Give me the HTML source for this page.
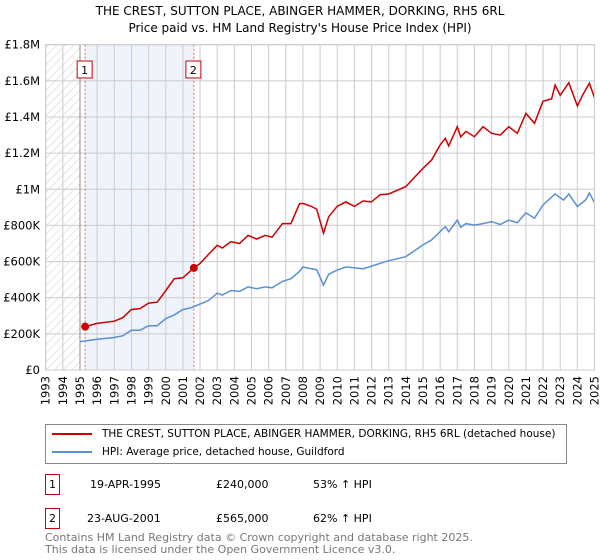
<!DOCTYPE html>
<html><head><meta charset="utf-8"><style>
body{margin:0;background:#fff;font-family:"DejaVu Sans","Liberation Sans",sans-serif;}
#wrap{position:relative;width:600px;height:560px;overflow:hidden;}
.t{position:absolute;font-size:11px;color:#000;white-space:nowrap;}
svg text{font-family:"DejaVu Sans","Liberation Sans",sans-serif;}
</style></head><body><div id="wrap">
<div class="t" style="left:0;width:600px;text-align:center;top:3px;font-size:12px;line-height:17px">THE CREST, SUTTON PLACE, ABINGER HAMMER, DORKING, RH5 6RL<br>Price paid vs. HM Land Registry's House Price Index (HPI)</div>
<svg id="svg" width="600" height="420" style="position:absolute;left:0;top:0"></svg>
<div style="position:absolute;left:45px;top:424px;width:520px;height:38px;border:1px solid #888;font-size:10.5px">
<div style="position:absolute;left:6px;top:3px;white-space:nowrap"><span style="display:inline-block;width:40px;height:2px;background:#cc0000;vertical-align:middle;margin-right:10px"></span>THE CREST, SUTTON PLACE, ABINGER HAMMER, DORKING, RH5 6RL (detached house)</div>
<div style="position:absolute;left:6px;top:21px;white-space:nowrap"><span style="display:inline-block;width:40px;height:2px;background:#5b8fd6;vertical-align:middle;margin-right:10px"></span>HPI: Average price, detached house, Guildford</div>
</div>
<div>
<div class="t" style="left:45px;top:474px;width:13px;height:19px;border:1px solid #cc0000;font-size:11px;line-height:19px;text-align:center">1</div>
<div class="t" style="left:90px;top:478px">19-APR-1995</div>
<div class="t" style="left:216px;top:478px">£240,000</div>
<div class="t" style="left:313px;top:478px">53% ↑ HPI</div>
</div>
<div>
<div class="t" style="left:45px;top:508px;width:13px;height:19px;border:1px solid #cc0000;font-size:11px;line-height:19px;text-align:center">2</div>
<div class="t" style="left:87px;top:512px">23-AUG-2001</div>
<div class="t" style="left:216px;top:512px">£565,000</div>
<div class="t" style="left:313px;top:512px">62% ↑ HPI</div>
</div>
<div class="t" style="left:45px;top:532px;font-size:11px;color:#777;line-height:11.5px">Contains HM Land Registry data © Crown copyright and database right 2025.<br>This data is licensed under the Open Government Licence v3.0.</div>
</div>
<script>
const yTicks=[0,200,400,600,800,1000,1200,1400,1600,1800];
const yLabels=["£0","£200K","£400K","£600K","£800K","£1M","£1.2M","£1.4M","£1.6M","£1.8M"];
const years=[1993,1994,1995,1996,1997,1998,1999,2000,2001,2002,2003,2004,2005,2006,2007,2008,2009,2010,2011,2012,2013,2014,2015,2016,2017,2018,2019,2020,2021,2022,2023,2024,2025];
const hpiT=[1995.0,1996,1997,1997.5,1998,1998.5,1999,1999.5,2000,2000.5,2001,2001.5,2002,2002.5,2003,2003.3,2003.8,2004.3,2004.8,2005.3,2005.8,2006.2,2006.8,2007.3,2007.8,2008.0,2008.5,2008.8,2009.2,2009.5,2010,2010.5,2011,2011.5,2012,2013,2014,2015,2015.5,2016,2016.3,2016.5,2017,2017.2,2017.5,2018,2018.5,2019,2019.5,2020,2020.5,2021,2021.5,2022,2022.7,2023.2,2023.5,2024,2024.5,2024.7,2025];
const hpiV=[157,170,180,190,220,220,245,245,285,305,335,345,365,385,425,415,440,435,460,450,460,455,490,505,545,570,560,555,470,530,553,570,566,560,575,605,627,692,720,765,793,765,830,790,810,802,810,821,805,830,815,870,840,913,974,940,974,904,943,980,926];
const ppT=[1995.3,1996,1997,1997.5,1998,1998.5,1999,1999.5,2000,2000.5,2001,2001.64,2002,2002.5,2003,2003.3,2003.8,2004.3,2004.8,2005.3,2005.8,2006.2,2006.8,2007.3,2007.8,2008,2008.5,2008.8,2009.2,2009.5,2010,2010.5,2011,2011.5,2012,2012.5,2013,2014,2015,2015.5,2016,2016.3,2016.5,2017,2017.2,2017.5,2018,2018.5,2019,2019.5,2020,2020.5,2021,2021.5,2022,2022.5,2022.7,2023,2023.5,2024,2024.3,2024.7,2025];
const ppV=[240,258,270,290,335,340,370,375,440,505,510,565,590,640,690,675,710,700,745,725,745,735,810,810,920,922,905,890,757,848,906,930,905,935,930,970,974,1015,1116,1162,1245,1282,1240,1346,1290,1320,1291,1346,1310,1300,1346,1310,1420,1365,1487,1500,1577,1520,1590,1461,1520,1587,1506];
const sales=[[1995.3,240],[2001.64,565]];
const X0=45.7,X1=594.5,Y0=370,Y1=44.7;
const x=t=>X0+(t-1993)/32*(X1-X0);
const y=v=>Y0-v/1800*(Y0-Y1);
const s=document.getElementById('svg');const NS='http://www.w3.org/2000/svg';
function mk(tag,a,p){const e=document.createElementNS(NS,tag);for(const k in a)e.setAttribute(k,a[k]);(p||s).appendChild(e);return e;}
const defs=mk('defs',{});const pat=mk('pattern',{id:'h',width:6,height:6,patternUnits:'userSpaceOnUse',patternTransform:'rotate(45)'},defs);mk('line',{x1:0,y1:0,x2:0,y2:6,stroke:'#ccc','stroke-width':1},pat);
let r=mk('rect',{x:x(1993),y:Y1,width:x(1995)-x(1993),height:Y0-Y1,fill:'url(#h)'});

r=mk('rect',{x:x(1995.3),y:Y1,width:x(2001.64)-x(1995.3),height:Y0-Y1,fill:'#eef3fc'});

years.forEach(yr=>{const l=mk('line',{x1:x(yr),x2:x(yr),y1:Y1,y2:Y0,stroke:'#ccc','stroke-width':1});

const t=mk('text',{transform:`translate(${x(yr)+4},${Y0+6}) rotate(-90)`,'text-anchor':'end','font-size':11.5,fill:'#000'});t.textContent=yr;
});
yTicks.forEach((v,i)=>{const l=mk('line',{x1:X0,x2:X1,y1:y(v),y2:y(v),stroke:'#ccc','stroke-width':1});

const t=mk('text',{x:40,y:y(v)+4,'text-anchor':'end','font-size':11.5,fill:'#000'});t.textContent=yLabels[i];
});
let l=mk('line',{x1:x(1995),x2:x(1995),y1:Y1,y2:Y0,stroke:'#888','stroke-width':1});

sales.forEach((d,i)=>{const v=mk('line',{x1:x(d[0]),x2:x(d[0]),y1:Y1,y2:Y0,stroke:'#f06060','stroke-width':1,'stroke-dasharray':'2,2'});

const bx=x(d[0])-8;const b=mk('rect',{x:bx,y:61,width:15,height:17,fill:'#fff',stroke:'#cc0000'});

const t=mk('text',{x:bx+7.5,y:74,'text-anchor':'middle','font-size':11});t.textContent=i+1;
});
const pts=(T,V)=>T.map((t,i)=>x(t).toFixed(1)+','+y(V[i]).toFixed(1)).join(' ');
let p=mk('polyline',{points:pts(hpiT,hpiV),fill:'none',stroke:'#5b8fd6','stroke-width':1.5});

p=mk('polyline',{points:pts(ppT,ppV),fill:'none',stroke:'#cc0000','stroke-width':1.5});

sales.forEach((d,i)=>{const c=mk('circle',{cx:x(d[0]),cy:y(d[1]),r:4,fill:'#cc0000'});
});
const ax=mk('rect',{x:X0,y:Y1,width:X1-X0,height:Y0-Y1,fill:'none',stroke:'#ccc'});

</script>
</body></html>
